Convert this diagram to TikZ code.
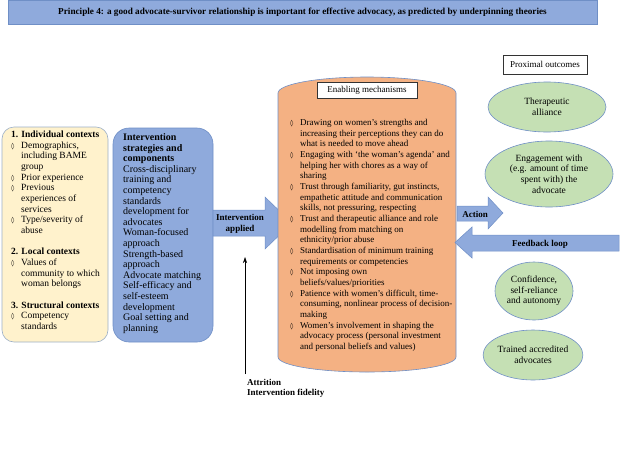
\documentclass[tikz,border=0pt]{standalone}
\usepackage{fontspec}
\setmainfont{Liberation Serif}
\newfontfamily\symfont{DejaVu Sans}
\usetikzlibrary{shapes.geometric,arrows.meta}
\definecolor{bluefill}{HTML}{8FAADC}
\definecolor{blueline}{HTML}{6F8FC6}
\definecolor{yellowfill}{HTML}{FFF2CC}
\definecolor{yellowline}{HTML}{9DB0C8}
\definecolor{orangefill}{HTML}{F4B183}
\definecolor{greenfill}{HTML}{C5E0B4}
\newcommand\txt{\fontsize{9}{10.67}\selectfont}
\newcommand\txtm{\fontsize{9.5}{10.67}\selectfont}
\newcommand\txtl{\fontsize{10}{10.6}\selectfont}
\newcommand\lz{\makebox[10pt][l]{\symfont\fontsize{6.5}{7}\selectfont ◊}}
\tikzset{
  textblock/.style={anchor=base west, inner sep=0pt, align=left},
  ybox/.style={draw=yellowline, fill=yellowfill, rounded corners=12pt, inner sep=0pt, line width=0.6pt},
  bbox/.style={draw=blueline, fill=bluefill, rounded corners=16pt, inner sep=0pt, line width=0.6pt},
  barrow/.style={draw=blueline, fill=bluefill, line width=0.5pt},
  cyl/.style={draw=blueline, fill=orangefill, line width=0.6pt},
  outcome/.style={ellipse, draw=blueline, fill=greenfill, inner sep=0pt, align=center, font=\txtm, line width=0.6pt},
  labelbox/.style={draw=black!80, fill=white, inner sep=0pt, font=\txt, line width=0.5pt},
  arrowtext/.style={inner sep=0pt, align=center, font=\txt\bfseries}
}
\begin{document}
\begin{tikzpicture}[x=1pt,y=-1pt]
\useasboundingbox (0,0) rectangle (620,450);
% title bar
\node[draw=blueline, fill=bluefill, minimum width=589pt, minimum height=23.5pt, inner sep=0pt, font=\fontsize{9.2}{11}\selectfont\bfseries, line width=0.6pt] (title) at (302.5,12.25)
 {Principle 4: a good advocate-survivor relationship is important for effective advocacy, as predicted by underpinning theories};

% contexts box
\node[ybox, minimum width=106pt, minimum height=215pt] (ctxbox) at (55,234.5) {};
\node[textblock] (ctx) at (11,137.5) {\txtm\begin{tabular}[t]{@{}l@{}l@{}}
\multicolumn{2}{@{}l@{}}{\bfseries 1. Individual contexts}\\
\lz & Demographics,\\
 & including BAME\\
 & group\\
\lz & Prior experience\\
\lz & Previous\\
 & experiences of\\
 & services\\
\lz & Type/severity of\\
 & abuse\\
 & \\
\multicolumn{2}{@{}l@{}}{\bfseries 2. Local contexts}\\
\lz & Values of\\
 & community to which\\
 & woman belongs\\
 & \\
\multicolumn{2}{@{}l@{}}{\bfseries 3. Structural contexts}\\
\lz & Competency\\
 & standards
\end{tabular}};

% intervention box
\node[bbox, minimum width=100pt, minimum height=214pt] (intbox) at (163,235) {};
\node[textblock] (int) at (123,140.5) {\txtl\begin{tabular}[t]{@{}l@{}}
\bfseries Intervention\\
\bfseries strategies and\\
\bfseries components\\
Cross-disciplinary\\
training and\\
competency\\
standards\\
development for\\
advocates\\
Woman-focused\\
approach\\
Strength-based\\
approach\\
Advocate matching\\
Self-efficacy and\\
self-esteem\\
development\\
Goal setting and\\
planning
\end{tabular}};

% intervention applied arrow
\draw[barrow] (213,210) -- (265,210) -- (265,197) -- (292,223) -- (265,249) -- (265,236) -- (213,236) -- cycle;
\node[arrowtext] (applied) at (240,224) {Intervention\\applied};

% cylinder
\draw[cyl] (278,93) -- (278,357) arc[start angle=180, end angle=360, x radius=89pt, y radius=15pt]
  -- (456,93) arc[start angle=0, end angle=180, x radius=89pt, y radius=16pt] -- cycle;
\node[labelbox, minimum width=100pt, minimum height=16.5pt] (enab) at (367,90) {Enabling mechanisms};
\node[textblock] (mech) at (290,125.5) {\txt\begin{tabular}[t]{@{}l@{}l@{}}
\lz & Drawing on women’s strengths and\\
 & increasing their perceptions they can do\\
 & what is needed to move ahead\\
\lz & Engaging with ‘the woman’s agenda’ and\\
 & helping her with chores as a way of\\
 & sharing\\
\lz & Trust through familiarity, gut instincts,\\
 & empathetic attitude and communication\\
 & skills, not pressuring, respecting\\
\lz & Trust and therapeutic alliance and role\\
 & modelling from matching on\\
 & ethnicity/prior abuse\\
\lz & Standardisation of minimum training\\
 & requirements or competencies\\
\lz & Not imposing own\\
 & beliefs/values/priorities\\
\lz & Patience with women’s difficult, time-\\
 & consuming, nonlinear process of decision-\\
 & making\\
\lz & Women’s involvement in shaping the\\
 & advocacy process (personal investment\\
 & and personal beliefs and values)
\end{tabular}};

% attrition arrow
\coordinate (attrbot) at (245,374);
\coordinate (attrtop) at (245,257);
\draw[line width=0.6pt, -{Stealth[length=6pt,width=4pt]}] (attrbot) -- (attrtop);
\node[textblock] (attr) at (247,385) {\txt\bfseries\begin{tabular}[t]{@{}l@{}}
Attrition\\
Intervention fidelity
\end{tabular}};

% action arrow
\draw[barrow] (457,206) -- (488,206) -- (488,197) -- (503,213) -- (488,229) -- (488,221) -- (457,221) -- cycle;
\node[arrowtext] (action) at (475,214) {Action};

% feedback arrow
\draw[barrow] (619,235) -- (472,235) -- (472,227) -- (455,242.5) -- (472,258) -- (472,251) -- (619,251) -- cycle;
\node[arrowtext] (feedback) at (540,244) {Feedback loop};

% outcomes
\node[labelbox, minimum width=84pt, minimum height=19pt] (prox) at (545,64.5) {Proximal outcomes};
\node[outcome, minimum width=118pt, minimum height=50pt] (ther) at (547,107) {Therapeutic\\alliance};
\node[outcome, minimum width=128pt, minimum height=66pt] (engage) at (549,174) {Engagement with\\(e.g. amount of time\\spent with) the\\advocate};
\node[outcome, minimum width=78pt, minimum height=58pt] (conf) at (534,291) {Confidence,\\self-reliance\\and autonomy};
\node[outcome, minimum width=92pt, minimum height=50pt] (trained) at (533,355) {Trained accredited\\advocates};
\end{tikzpicture}
\end{document}
